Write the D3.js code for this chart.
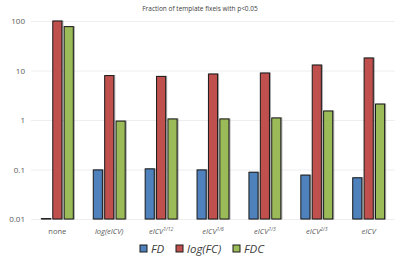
<!DOCTYPE html>
<meta charset="utf-8">
<style>
body { margin: 0; background: #fff; }
text { font-family: "Open Sans", sans-serif; }
.tick line { stroke: #eeeeee; }
.axis path { display: none; }
.axis--y text { fill: #595959; font-size: 8px; }
</style>
<svg width="400" height="260"></svg>
<script src="https://cdn.jsdelivr.net/npm/d3@7"></script>
<script>

var categories = ["none", "log(eICV)", "eICV^1/12", "eICV^1/6", "eICV^1/3", "eICV^2/3", "eICV"];
var seriesNames = ["FD", "log(FC)", "FDC"];
var fdValues = [0.0102, 0.098, 0.103, 0.098, 0.088, 0.077, 0.068];
var fcValues = [100, 7.9, 7.6, 8.5, 8.9, 12.9, 17.9];
var fdcValues = [77, 0.95, 1.05, 1.05, 1.1, 1.52, 2.1];
var yTicks = [0.01, 0.1, 1, 10, 100];
var colors = ["#4f81bd", "#c0504d", "#9bbb59"];

var svg = d3.select("svg"),
    margin = {top: 21, right: 5, bottom: 41, left: 31},
    width = +svg.attr("width") - margin.left - margin.right,
    height = +svg.attr("height") - margin.top - margin.bottom;

var x = d3.scaleBand().domain(categories).range([0, width]).paddingInner(0.385).paddingOuter(0.2),
    xs = d3.scaleBand().domain(seriesNames).range([0, x.bandwidth()]).paddingInner(0.2),
    y = d3.scaleLog().domain([0.01, 100]).range([height, 0]);

var g = svg.append("g")
    .attr("transform", "translate(" + margin.left + "," + margin.top + ")");

g.append("g")
    .attr("class", "axis axis--y")
    .call(d3.axisLeft(y).tickValues(yTicks).tickSize(-width).tickPadding(6)
      .tickFormat(function(d) { return d3.format("~g")(d); }));

var data = [fdValues, fcValues, fdcValues];
var groups = g.selectAll(".grp")
  .data(categories)
  .enter().append("g")
    .attr("class", "grp")
    .attr("transform", function(d) { return "translate(" + x(d) + ",0)"; });

groups.selectAll("rect")
  .data(function(d, i) { return seriesNames.map(function(s, j) { return {s: s, v: data[j][i], j: j}; }); })
  .enter().append("rect")
    .attr("x", function(d) { return xs(d.s); })
    .attr("y", function(d) { return y(d.v); })
    .attr("width", xs.bandwidth())
    .attr("height", function(d) { return height - y(d.v); })
    .attr("fill", function(d) { return colors[d.j]; })
    .attr("stroke", "#1a1a1a")
    .attr("stroke-width", 1)
    .style("filter", "drop-shadow(1px 0px 0.5px rgba(0,0,0,0.35))");

// x labels with superscripts
var xl = g.selectAll(".xlab")
  .data(categories)
  .enter().append("text")
    .attr("class", "xlab")
    .attr("x", function(d) { return x(d) + x.bandwidth() / 2; })
    .attr("y", height + 15)
    .attr("text-anchor", "middle")
    .attr("fill", "#595959")
    .style("font-size", "7.5px")
    .style("font-style", function(d, i) { return i === 0 ? "normal" : "italic"; });

xl.each(function(d) {
  var parts = d.split("^");
  var t = d3.select(this);
  t.append("tspan").text(parts[0]);
  if (parts[1]) {
    t.append("tspan").attr("dy", -3).style("font-size", "5px").text(parts[1]);
  }
});

svg.append("text")
    .attr("x", 200)
    .attr("y", 11)
    .attr("text-anchor", "middle")
    .attr("fill", "#404040")
    .style("font-size", "6.5px")
    .text("Fraction of template fixels with p<0.05");

// legend
var legX = [140, 176, 233];
var leg = svg.selectAll(".leg")
  .data(seriesNames)
  .enter().append("g")
    .attr("class", "leg")
    .attr("transform", function(d, i) { return "translate(" + legX[i] + ",245)"; });

leg.append("rect")
    .attr("width", 7).attr("height", 7)
    .attr("fill", function(d, i) { return colors[i]; })
    .attr("stroke", "#1a1a1a");

leg.append("text")
    .attr("x", 11)
    .attr("y", 8)
    .attr("fill", "#404040")
    .style("font-size", "11.5px")
    .style("font-style", "italic")
    .text(function(d) { return d; });

</script>
